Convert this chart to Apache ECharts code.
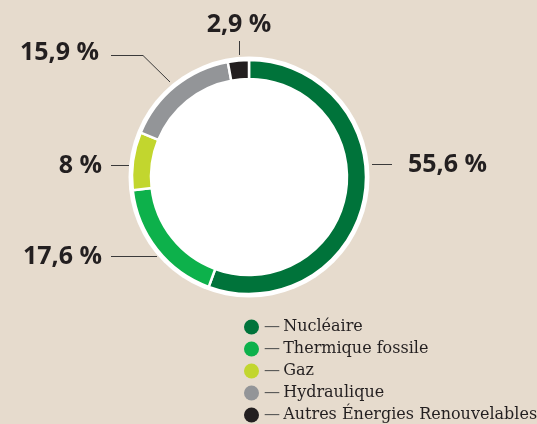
<!DOCTYPE html>
<html lang="fr">
<head>
    <meta charset="UTF-8">
    <title>Production d'électricité</title>
    <script src="https://cdn.jsdelivr.net/npm/echarts@6/dist/echarts.min.js"></script>
    <style>
        html, body { margin: 0; padding: 0; background: #e6dbcd; }
        #chart { width: 537px; height: 424px; }
    </style>
</head>
<body>
<div id="chart"></div>
<script>
    // données
    const categories = ['Nucléaire', 'Thermique fossile', 'Gaz', 'Hydraulique', 'Autres Énergies Renouvelables'];
    const shares = [55.6, 17.6, 8, 15.9, 2.9];
    const colors = ['#00733a', '#0db14b', '#c2d62e', '#939598', '#231f20'];

    // position des étiquettes et des traits de rappel
    const labelSpots = [
        { x: 408, y: 165, align: 'left', line: [[372, 164.5], [382, 164.5], [392, 164.5]] },
        { x: 102, y: 257, align: 'right', line: [[157, 256.5], [134, 256.5], [111, 256.5]] },
        { x: 102, y: 165.5, align: 'right', line: [[129, 165.5], [120, 165.5], [111, 165.5]] },
        { x: 99, y: 53, align: 'right', line: [[170, 82], [143, 55.5], [111, 55.5]] },
        { x: 239, y: 25, align: 'center', line: [[239.5, 55], [239.5, 48], [239.5, 41]] }
    ];

    const fmt = v => String(v).replace('.', ',') + ' %';

    const chart = echarts.init(document.getElementById('chart'));
    chart.setOption({
        backgroundColor: '#e6dbcd',
        animation: false,
        legend: {
            orient: 'vertical',
            left: 244,
            top: 319,
            height: 120,
            padding: 0,
            itemWidth: 15,
            itemHeight: 15,
            itemGap: 6,
            icon: 'circle',
            itemStyle: { borderWidth: 0 },
            data: categories,
            formatter: name => '{d|—}\u2009' + name,
            textStyle: {
                fontFamily: 'DejaVu Serif',
                fontSize: 16,
                lineHeight: 15,
                color: '#231f20',
                rich: {
                    d: { fontFamily: 'DejaVu Serif', fontSize: 16, lineHeight: 15, color: '#555' }
                }
            }
        },
        series: [
            {
                type: 'pie',
                silent: true,
                center: [249, 177],
                radius: [0, 120.5],
                z: 1,
                label: { show: false },
                labelLine: { show: false },
                itemStyle: { color: '#ffffff' },
                data: [{ value: 1, name: '' }],
                legendHoverLink: false
            },
            {
                type: 'pie',
                center: [249, 177],
                radius: [98, 117],
                startAngle: 90,
                clockwise: true,
                z: 2,
                itemStyle: { borderColor: '#ffffff', borderWidth: 2.5 },
                label: {
                    show: true,
                    formatter: p => fmt(p.value),
                    fontFamily: 'Open Sans',
                    fontWeight: 'bold',
                    fontSize: 25,
                    color: '#231f20'
                },
                labelLine: {
                    show: true,
                    lineStyle: { color: '#3a3a3a', width: 1 }
                },
                labelLayout: p => {
                    const s = labelSpots[p.dataIndex];
                    return {
                        x: s.x,
                        y: s.y,
                        align: s.align,
                        verticalAlign: 'middle',
                        labelLinePoints: s.line
                    };
                },
                data: categories.map((c, i) => ({
                    name: c,
                    value: shares[i],
                    itemStyle: { color: colors[i] }
                }))
            }
        ]
    });
</script>
</body>
</html>
